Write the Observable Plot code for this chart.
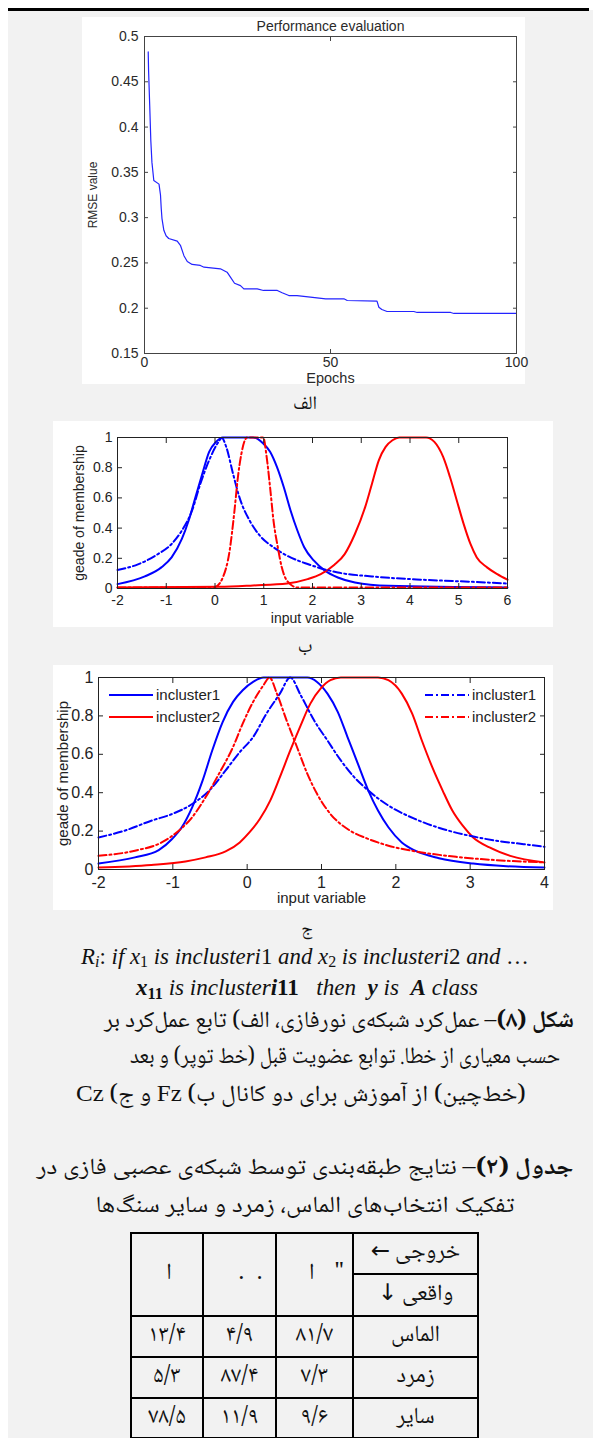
<!DOCTYPE html>
<html><head><meta charset="utf-8">
<script src="https://cdn.jsdelivr.net/npm/d3@7"></script>
<script src="https://cdn.jsdelivr.net/npm/@observablehq/plot@0.6"></script>
<style>
html,body{margin:0;padding:0;background:#fff;}
#page{position:relative;width:593px;height:1438px;overflow:hidden;background:#fff;}
#bg{position:absolute;left:8px;top:10px;right:0;bottom:0;background:#f2f2f2;}
#bar{position:absolute;left:8px;top:8px;right:4px;height:2.5px;background:#000;}
.panel{position:absolute;}
.panel svg{display:block;}
.txt{position:absolute;white-space:nowrap;transform:translate(-50%,-50%);line-height:1;color:#111;}
.fa{font-family:"Noto Naskh Arabic","Noto Sans Arabic","DejaVu Sans",sans-serif;direction:rtl;font-size:23px;}
.fa b{font-weight:bold;}
.lat{font-family:"Liberation Serif","Times New Roman",serif;}
.fm{font-family:"Liberation Serif","Times New Roman",serif;font-size:19px;direction:ltr;line-height:1;}
.fm sub{font-size:70%;vertical-align:-0.2em;line-height:0;font-style:normal;}
.fm .u{font-style:normal;}
#tbl{position:absolute;left:130px;top:1232px;border-collapse:collapse;direction:rtl;font-family:"Noto Naskh Arabic","Noto Sans Arabic","DejaVu Sans",sans-serif;font-size:23px;color:#111;table-layout:fixed;}
#tbl td{border:2px solid #000;text-align:center;vertical-align:middle;padding:0;white-space:nowrap;overflow:hidden;line-height:1;}
.leg{position:absolute;font-family:"Liberation Sans",Arial,sans-serif;font-size:15px;color:#222;white-space:nowrap;}
.hg{display:inline-block;}
</style></head>
<body><div id="page"><div id="bg"></div><div id="bar"></div></div>
<script>
// ---------- data ----------
const rmseXTicks = [0, 50, 100];
const rmseYTicks = [0.15, 0.2, 0.25, 0.3, 0.35, 0.4, 0.45, 0.5];
// [epoch, RMSE]
const rmse = [[1,0.483],[1.1,0.462],[1.4,0.424],[1.7,0.385],[2.0,0.361],[2.5,0.341],[3.9,0.337],[4.3,0.325],[4.5,0.31],[4.7,0.299],[5.2,0.286],[5.8,0.28],[6.5,0.277],[8.8,0.274],[9.7,0.269],[10.6,0.258],[11.5,0.2516],[12.8,0.2483],[15,0.2472],[16,0.2453],[20.4,0.2435],[22.2,0.2398],[23.1,0.2343],[24.2,0.2276],[25.8,0.225],[26.7,0.2214],[30.3,0.2214],[32,0.2196],[35.7,0.2196],[37,0.217],[38.8,0.214],[41,0.214],[44.6,0.2122],[48.7,0.2104],[53.6,0.2104],[54.5,0.2085],[62.5,0.2078],[63,0.2011],[63.8,0.1986],[65.2,0.1964],[72.4,0.1964],[73.3,0.1953],[82.3,0.1953],[83.2,0.1942],[100,0.1942]];

const memYTicks = [0, 0.2, 0.4, 0.6, 0.8, 1];
const bXTicks = [-2, -1, 0, 1, 2, 3, 4, 5, 6];
const cXTicks = [-2, -1, 0, 1, 2, 3, 4];

// chart ب  [input, membership]
const bBlueSolid = [[-2,0.029],[-1.44,0.08],[-1.1,0.14],[-0.89,0.206],[-0.68,0.328],[-0.54,0.45],[-0.4,0.605],[-0.26,0.76],[-0.12,0.905],[0.02,0.97],[0.16,1],[0.78,1],[0.99,0.96],[1.13,0.905],[1.27,0.805],[1.41,0.672],[1.55,0.517],[1.69,0.384],[1.83,0.273],[2.03,0.184],[2.24,0.122],[2.52,0.073],[2.87,0.04],[3.56,0.018],[6,0.007]];
const bBlueDash = [[-2,0.122],[-1.58,0.16],[-1.17,0.228],[-0.89,0.295],[-0.68,0.384],[-0.47,0.517],[-0.3,0.694],[-0.12,0.849],[0.05,0.96],[0.14,0.996],[0.23,0.938],[0.37,0.76],[0.5,0.605],[0.71,0.45],[0.92,0.35],[1.2,0.273],[1.48,0.217],[1.9,0.162],[2.52,0.106],[3.22,0.08],[4.26,0.058],[5.3,0.044],[6,0.033]];
const bRedDash = [[-2,0.007],[-0.1,0.007],[0,0.01],[0.16,0.073],[0.3,0.25],[0.4,0.517],[0.47,0.738],[0.54,0.89],[0.61,0.98],[0.66,1],[0.99,1],[1.06,0.87],[1.13,0.67],[1.2,0.45],[1.29,0.27],[1.37,0.14],[1.48,0.05],[1.69,0.007],[6,0.007]];
const bRedSolid = [[-2,0.007],[0.09,0.011],[0.78,0.02],[1.48,0.033],[1.9,0.062],[2.17,0.095],[2.45,0.157],[2.66,0.228],[2.87,0.361],[3.08,0.539],[3.22,0.694],[3.36,0.849],[3.5,0.938],[3.64,0.982],[3.78,1],[4.33,1],[4.5,0.971],[4.68,0.871],[4.82,0.738],[4.96,0.583],[5.1,0.428],[5.24,0.295],[5.37,0.206],[5.58,0.14],[5.79,0.095],[6,0.058]];

// chart ج
const cBlueSolid = [[-2,0.031],[-1.51,0.063],[-1.19,0.101],[-1.01,0.159],[-0.88,0.22],[-0.74,0.324],[-0.6,0.463],[-0.47,0.62],[-0.33,0.768],[-0.19,0.873],[-0.06,0.934],[0.08,0.977],[0.22,1],[0.81,1],[0.94,0.977],[1.08,0.916],[1.22,0.82],[1.35,0.69],[1.49,0.55],[1.63,0.411],[1.76,0.307],[1.9,0.22],[2.08,0.141],[2.26,0.098],[2.58,0.059],[3.04,0.031],[3.49,0.017],[4,0.01]];
const cBlueDash = [[-2,0.167],[-1.65,0.202],[-1.29,0.254],[-1.01,0.289],[-0.74,0.341],[-0.51,0.411],[-0.29,0.516],[-0.1,0.611],[0.08,0.69],[0.26,0.812],[0.44,0.916],[0.58,1],[0.72,0.908],[0.9,0.777],[1.08,0.672],[1.26,0.568],[1.44,0.481],[1.63,0.411],[1.9,0.333],[2.26,0.263],[2.63,0.211],[2.99,0.176],[3.35,0.15],[3.72,0.132],[4,0.118]];
const cRedDash = [[-2,0.071],[-1.51,0.098],[-1.15,0.141],[-0.92,0.202],[-0.74,0.272],[-0.56,0.376],[-0.38,0.498],[-0.19,0.638],[-0.06,0.76],[0.08,0.873],[0.22,0.96],[0.3,1],[0.4,0.916],[0.53,0.777],[0.67,0.638],[0.81,0.498],[0.94,0.394],[1.12,0.289],[1.35,0.211],[1.63,0.159],[1.9,0.124],[2.35,0.089],[2.81,0.066],[3.26,0.051],[4,0.037]];
const cRedSolid = [[-2,0.01],[-1.29,0.024],[-0.83,0.042],[-0.56,0.063],[-0.29,0.094],[-0.1,0.141],[0.03,0.193],[0.17,0.263],[0.31,0.359],[0.44,0.481],[0.58,0.62],[0.72,0.751],[0.85,0.864],[0.99,0.943],[1.12,0.986],[1.26,1],[1.76,1],[1.9,0.986],[2.08,0.916],[2.22,0.812],[2.35,0.672],[2.49,0.533],[2.63,0.411],[2.76,0.307],[2.9,0.228],[3.04,0.167],[3.26,0.115],[3.54,0.071],[4,0.037]];

const legendLabels = ["incluster1", "incluster2"];

// table
const tableRowLabels = ["الماس", "زمرد", "سایر"];
const colA = ["۸۱/۷", "۷/۳", "۹/۶"];
const colB = ["۴/۹", "۸۷/۴", "۱۱/۹"];
const colC = ["۱۳/۴", "۵/۳", "۷۸/۵"];
const headerOut = "خروجی ←";
const headerReal = "واقعی ↓";
const headerCols = [["ا", "\""], [".", "."], ["ا"]];

// ---------- charts ----------
const FONT = "'Liberation Sans', Arial, Helvetica, sans-serif";
const page = document.getElementById("page");
function addPanel(node, x, y) {
  const d = document.createElement("div");
  d.className = "panel"; d.style.left = x + "px"; d.style.top = y + "px";
  d.appendChild(node); page.appendChild(d);
}
const fmt = d => String(d);
const BLUE = "#0000ff", RED = "#ff0000", DASH = "8,3,2,3";

function axes(xt, yt, fs, tk, stroke, padY, padX) {
  return [
    Plot.axisY({anchor: "left", ticks: yt, tickSize: -tk, tickPadding: padY + tk, tickFormat: fmt, fontSize: fs, label: null, stroke}),
    Plot.axisY({anchor: "right", ticks: yt, tickSize: -tk, tickFormat: () => "", label: null, stroke}),
    Plot.axisX({anchor: "bottom", ticks: xt, tickSize: -tk, tickPadding: padX + tk, tickFormat: fmt, fontSize: fs, label: null, stroke}),
    Plot.axisX({anchor: "top", ticks: xt, tickSize: -tk, tickFormat: () => "", label: null, stroke})
  ];
}
const lab = (s, o) => Plot.text([s], {text: d => d, textAnchor: "middle", lineAnchor: "middle", ...o});

// Chart الف
const chartA = Plot.plot({
  width: 443, height: 367,
  marginLeft: 62, marginRight: 9, marginTop: 19, marginBottom: 31,
  style: {background: "white", fontFamily: FONT, color: "#2a2a2a", overflow: "visible"},
  x: {domain: [0, 100]},
  y: {domain: [0.15, 0.5]},
  marks: [
    Plot.line(rmse, {x: d => d[0], y: d => d[1], stroke: "#2323ff", strokeWidth: 1.2}),
    Plot.frame({stroke: "#444"}),
    ...axes(rmseXTicks, rmseYTicks, 14, 4, "#444", 6, 4),
    lab("Performance evaluation", {frameAnchor: "top", dy: -10, fontSize: 14}),
    lab("Epochs", {frameAnchor: "bottom", dy: 25, fontSize: 14.5}),
    lab("RMSE value", {frameAnchor: "left", rotate: -90, dx: -51, fontSize: 12})
  ]
});
addPanel(chartA, 82, 17);

function memChart(opts) {
  const {w, h, ml, mr, mt, mb, xdom, xt, series, fs, dyX, dxY, fsLab} = opts;
  return Plot.plot({
    width: w, height: h, marginLeft: ml, marginRight: mr, marginTop: mt, marginBottom: mb,
    style: {background: "white", fontFamily: FONT, color: "#222", overflow: "visible"},
    x: {domain: xdom}, y: {domain: [0, 1]},
    marks: [
      ...series.map(s => Plot.line(s.data, {x: d => d[0], y: d => d[1], stroke: s.color, strokeWidth: 2, strokeDasharray: s.dash || null, curve: "monotone-x"})),
      Plot.frame({stroke: "#222"}),
      ...axes(xt, memYTicks, fs, 5, "#222", 5, 7),
      lab("input variable", {frameAnchor: "bottom", dy: dyX, fontSize: fsLab}),
      lab("geade of membership", {frameAnchor: "left", rotate: -90, dx: dxY, fontSize: fsLab})
    ]
  });
}

const chartB = memChart({
  w: 500, h: 206, ml: 64, mr: 46, mt: 16, mb: 39, xdom: [-2, 6], xt: bXTicks, fs: 14, dyX: 30, dxY: -38, fsLab: 14,
  series: [
    {data: bBlueSolid, color: BLUE},
    {data: bRedSolid, color: RED},
    {data: bBlueDash, color: BLUE, dash: DASH},
    {data: bRedDash, color: RED, dash: DASH}
  ]
});
addPanel(chartB, 53, 421);

const chartC = memChart({
  w: 500, h: 245, ml: 45, mr: 9, mt: 12, mb: 41, xdom: [-2, 4], xt: cXTicks, fs: 16, dyX: 29, dxY: -35, fsLab: 15,
  series: [
    {data: cBlueSolid, color: BLUE},
    {data: cRedSolid, color: RED},
    {data: cBlueDash, color: BLUE, dash: DASH},
    {data: cRedDash, color: RED, dash: DASH}
  ]
});
addPanel(chartC, 53, 665);

// legend overlay for chart ج
function legendItem(x, y, color, dash, label) {
  const d = document.createElement("div");
  d.className = "leg"; d.style.left = x + "px"; d.style.top = (y - 10) + "px";
  d.innerHTML = `<svg width="46" height="20" style="vertical-align:middle"><line x1="1" x2="45" y1="10" y2="10" stroke="${color}" stroke-width="2.2" ${dash ? `stroke-dasharray="${dash}"` : ""}/></svg><span style="position:relative;top:1px;margin-left:2px">${label}</span>`;
  page.appendChild(d);
}
legendItem(108, 695, BLUE, null, legendLabels[0]);
legendItem(108, 717, RED, null, legendLabels[1]);
legendItem(424, 695, BLUE, DASH, legendLabels[0]);
legendItem(424, 717, RED, DASH, legendLabels[1]);

// ---------- texts ----------
const texts = [
  {html: "الف", cls: "fa", cx: 305, cy: 405, fs: 19},
  {html: "ب", cls: "fa", cx: 305, cy: 648, fs: 19},
  {html: "ج", cls: "fa", cx: 307, cy: 930, fs: 18},
  {html: '<i>R</i><sub><i>i</i></sub><span class="u">:</span><i> if x</i><sub>1</sub><i> is inclusteri</i><span class="u">1</span><i> and x</i><sub>2</sub><i> is inclusteri</i><span class="u">2</span><i> and </i><span class="u">…</span>', cls: "fm", cx: 305, cy: 957, w: 448, mode: "size"},
  {html: '<b><i>x</i><sub>11</sub></b><i> is incluster</i><b><i>i</i><span class="u">11</span></b><i>&nbsp;&nbsp; then&nbsp; </i><b><i>y</i></b><i> is&nbsp; </i><b><i>A</i></b><i> class</i>', cls: "fm", cx: 307, cy: 988, w: 342, mode: "size"},
  {html: "<b>شکل (۸)</b>– عمل‌کرد شبکه‌ی نورفازی، الف) تابع عمل‌کرد بر", cls: "fa", cx: 339, cy: 1022, w: 470},
  {html: "حسب معیاری از خطا. توابع عضویت قبل (خط توپر) و بعد", cls: "fa", cx: 345, cy: 1058, w: 430},
  {html: '(خط‌چین) از آموزش برای دو کانال ب) <span class="lat">Fz</span> و ج) <span class="lat">Cz</span>', cls: "fa", cx: 301, cy: 1095, w: 450},
  {html: "<b>جدول (۲)</b>– نتایج طبقه‌بندی توسط شبکه‌ی عصبی فازی در", cls: "fa", cx: 305, cy: 1169, w: 537},
  {html: "تفکیک انتخاب‌های الماس، زمرد و سایر سنگ‌ها", cls: "fa", cx: 305, cy: 1207, w: 419}
];
texts.forEach(t => {
  const el = document.createElement("div");
  el.className = "txt " + t.cls; el.innerHTML = t.html;
  el.style.left = t.cx + "px"; el.style.top = t.cy + "px";
  if (t.fs) el.style.fontSize = t.fs + "px";
  page.appendChild(el);
  if (t.w) {
    const r = el.getBoundingClientRect().width;
    if (t.mode === "size") {
      const fs = parseFloat(getComputedStyle(el).fontSize);
      el.style.fontSize = (fs * t.w / r) + "px";
    } else {
      el.style.transform = `translate(-50%,-50%) scaleX(${t.w / r})`;
    }
  }
});

// ---------- table ----------
const tbl = document.createElement("table");
tbl.id = "tbl";
const colW = [125, 77, 73, 72];
const hdrShift = [12, 11, 2];
const hdrGap = [20, 12, 0];
let html = `<colgroup>${colW.map(w => `<col style="width:${w}px">`).join("")}</colgroup>`;
html += `<tr style="height:41px"><td>${headerOut}</td>` +
  headerCols.map((h, i) => `<td rowspan="2" dir="ltr"><span class="hg" style="transform:translateX(${hdrShift[i]}px)">${h.join(`<span class="hg" style="width:${hdrGap[i]}px"></span>`)}</span></td>`).join("") + `</tr>`;
html += `<tr style="height:42px"><td>${headerReal}</td></tr>`;
const rowH = [41, 41, 40];
tableRowLabels.forEach((lb, i) => {
  html += `<tr style="height:${rowH[i]}px"><td>${lb}</td><td>${colA[i]}</td><td>${colB[i]}</td><td>${colC[i]}</td></tr>`;
});
tbl.innerHTML = html;
tbl.style.width = "347px";
page.appendChild(tbl);
</script>
</body></html>
